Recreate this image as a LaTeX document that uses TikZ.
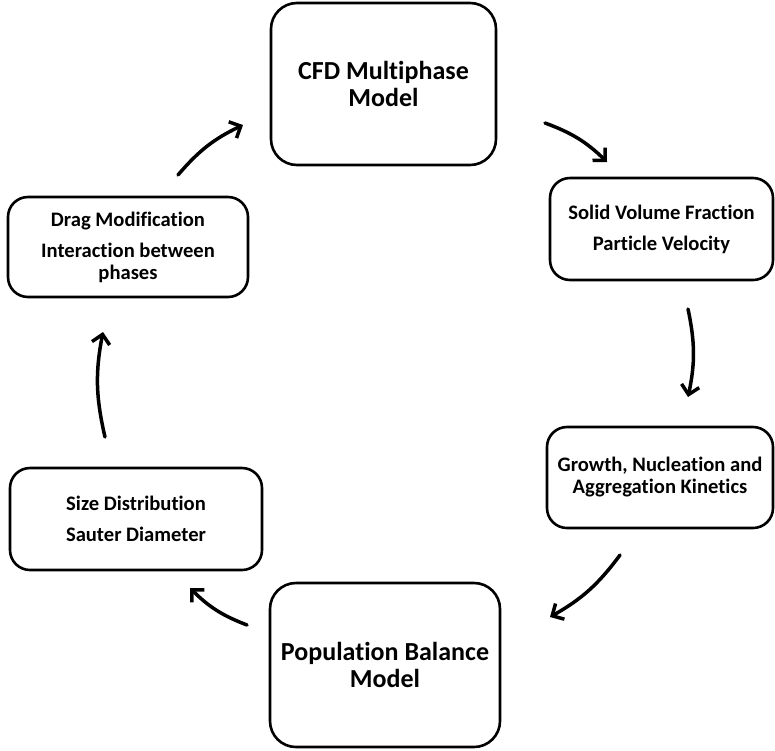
\documentclass[tikz,border=0pt]{standalone}
\usepackage{fontspec}
\setmainfont{Carlito}[Ligatures=NoCommon]
\usetikzlibrary{arrows.meta}
\begin{document}
\begin{tikzpicture}[x=1pt,y=-1pt,
  bigbox/.style={draw, line width=2.6pt, rounded corners=26pt, font=\bfseries\fontsize{26}{27}\selectfont, align=center, inner sep=0pt},
  smallbox/.style={draw, line width=2.6pt, rounded corners=20pt, font=\bfseries\fontsize{20.6}{22}\selectfont, align=center, inner sep=0pt},
  flow/.style={line width=3.5pt, line cap=round, -{Straight Barb[length=9pt,width=18pt]}, bend left=12}]
\useasboundingbox (0,0) rectangle (775,750);
\node[bigbox, minimum width=225pt, minimum height=162pt] (cfd) at (383.5,84) {CFD Multiphase\\Model};
\node[smallbox, minimum width=223pt, minimum height=102pt] (svf) at (661.5,229) {Solid Volume Fraction\\[9pt]Particle Velocity};
\node[smallbox, minimum width=226pt, minimum height=101pt] (gnk) at (660,477.5) {Growth, Nucleation and\\Aggregation Kinetics};
\node[bigbox, minimum width=230pt, minimum height=164pt] (pbm) at (385,665) {Population Balance\\Model};
\node[smallbox, minimum width=252pt, minimum height=102pt] (sd) at (136,519) {Size Distribution\\[9pt]Sauter Diameter};
\node[smallbox, minimum width=240pt, minimum height=100pt] (drag) at (128,247) {Drag Modification\\[9pt]Interaction between\\phases};
\coordinate (a1s) at (178,175); \coordinate (a1e) at (243,125);
\coordinate (a2s) at (545,123); \coordinate (a2e) at (607,162);
\coordinate (a3s) at (688,309); \coordinate (a3e) at (688,397);
\coordinate (a4s) at (620,555); \coordinate (a4e) at (550,617);
\coordinate (a5s) at (247,625); \coordinate (a5e) at (190,588);
\coordinate (a6s) at (105,437); \coordinate (a6e) at (103,332);
\draw[flow] (a1s) to (a1e);
\draw[flow] (a2s) to (a2e);
\draw[flow] (a3s) to (a3e);
\draw[flow] (a4s) to (a4e);
\draw[flow] (a5s) to (a5e);
\draw[flow] (a6s) to (a6e);
\end{tikzpicture}
\end{document}
